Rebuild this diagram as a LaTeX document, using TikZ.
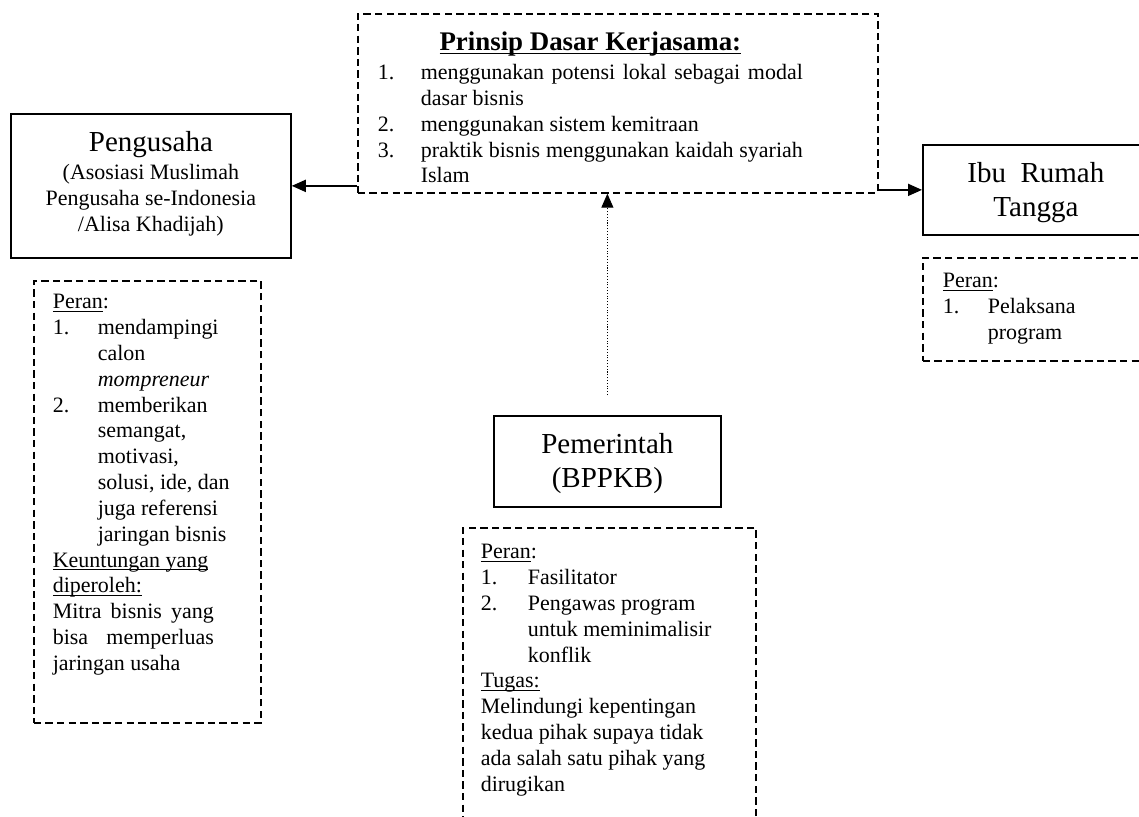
\documentclass[tikz,border=0pt]{standalone}
\usepackage{fontspec}
\setmainfont{Liberation Serif}
\usetikzlibrary{arrows.meta, positioning}

\newlength\px
\setlength\px{0.02cm}
\newlength\hangwd
\newcommand{\bodyfont}{\fontsize{12.5pt}{14.7pt}\selectfont}
\newcommand{\titlefont}{\fontsize{16.5pt}{19.3pt}\selectfont}
\newcommand{\headfont}{\fontsize{15.3pt}{18pt}\selectfont\bfseries}
\newcommand{\garis}[1]{\underline{\smash{#1}}}
\newcommand{\butir}[2]{\par\noindent\hangindent=\hangwd\hangafter=1\makebox[\hangwd][l]{#1}#2}

\begin{document}
\begin{tikzpicture}[
    x=0.02cm, y=-0.02cm,
    actor/.style={draw, line width=1pt, inner sep=0pt, anchor=north west},
    rolebox/.style={draw, dash pattern=on 4.2pt off 2.4pt, line width=0.95pt, inner sep=0pt, anchor=north west},
    arrow/.style={-{Triangle[length=0.28cm, width=0.24cm]}, line width=1pt},
    dotarrow/.style={arrow, line width=0.55pt, dash pattern=on 0.6pt off 1pt}
]
\useasboundingbox (0,0) rectangle (1139,817);

% Principles box (top)
\node[rolebox] (prinsip) at (357,13) {\parbox[c][179\px][t]{520\px}{%
    \bodyfont\leftskip=20\px\rightskip=75\px\setlength\hangwd{43\px}%
    \noindent\rule{0pt}{37\px}\makebox[425\px]{\headfont\garis{Prinsip Dasar Kerjasama:}}\par
    \vspace{3\px}%
    \butir{1.}{menggunakan potensi lokal sebagai modal\linebreak dasar bisnis}
    \butir{2.}{menggunakan sistem kemitraan}
    \butir{3.}{praktik bisnis menggunakan kaidah syariah\linebreak Islam}\par}};

% Actors
\node[actor] (pengusaha) at (10,113) {\parbox[c][144\px][t]{280\px}{%
    \centering\titlefont\rule{0pt}{38\px}Pengusaha\par
    \bodyfont\vspace{2\px}%
    (Asosiasi Muslimah\\Pengusaha se-Indonesia\\/Alisa Khadijah)\par}};
\node[actor] (ibu) at (922,144) {\parbox[c][90\px][t]{226\px}{%
    \centering\titlefont\rule{0pt}{38\px}Ibu\ \ Rumah\\Tangga\par}};
\node[actor] (pemerintah) at (493,415) {\parbox[c][91\px][t]{227\px}{%
    \centering\titlefont\rule{0pt}{38\px}Pemerintah\\(BPPKB)\par}};

% Roles of each actor
\node[rolebox] (peranusaha) at (33,280) {\parbox[c][442\px][t]{227\px}{%
    \bodyfont\leftskip=19\px\setlength\hangwd{45\px}%
    \noindent\rule{0pt}{28\px}\garis{Peran}:\par
    \butir{1.}{mendampingi\\ calon\\ \textit{mompreneur}}
    \butir{2.}{memberikan\\ semangat,\\ motivasi,\\ solusi, ide, dan\\ juga referensi\\ jaringan bisnis}\par
    \noindent\garis{Keuntungan yang}\\ \garis{diperoleh:}\par
    {\rightskip=47\px\noindent Mitra bisnis yang\linebreak bisa memperluas\linebreak jaringan usaha\par}}};
\node[rolebox] (peranibu) at (922,257) {\parbox[c][103\px][t]{230\px}{%
    \bodyfont\leftskip=20\px\setlength\hangwd{45\px}%
    \noindent\rule{0pt}{30\px}\garis{Peran}:\par
    \butir{1.}{Pelaksana\\ program}\par}};
\node[rolebox] (peranpem) at (462,527) {\parbox[c][320\px][t]{293\px}{%
    \bodyfont\leftskip=18\px\setlength\hangwd{47\px}%
    \noindent\rule{0pt}{31\px}\garis{Peran}:\par
    \butir{1.}{Fasilitator}
    \butir{2.}{Pengawas program\\ untuk meminimalisir\\ konflik}\par
    \noindent\garis{Tugas:}\par
    \noindent Melindungi kepentingan\\ kedua pihak supaya tidak\\ ada salah satu pihak yang\\ dirugikan\par}};

% Connectors
\draw[arrow] (prinsip.west |- pengusaha.east) -- (pengusaha.east);
\draw[arrow] (prinsip.east |- ibu.west) -- (ibu.west);
\draw[dotarrow] ([yshift=0.4cm]pemerintah.north) -- (pemerintah.north |- prinsip.south);

\end{tikzpicture}
\end{document}
